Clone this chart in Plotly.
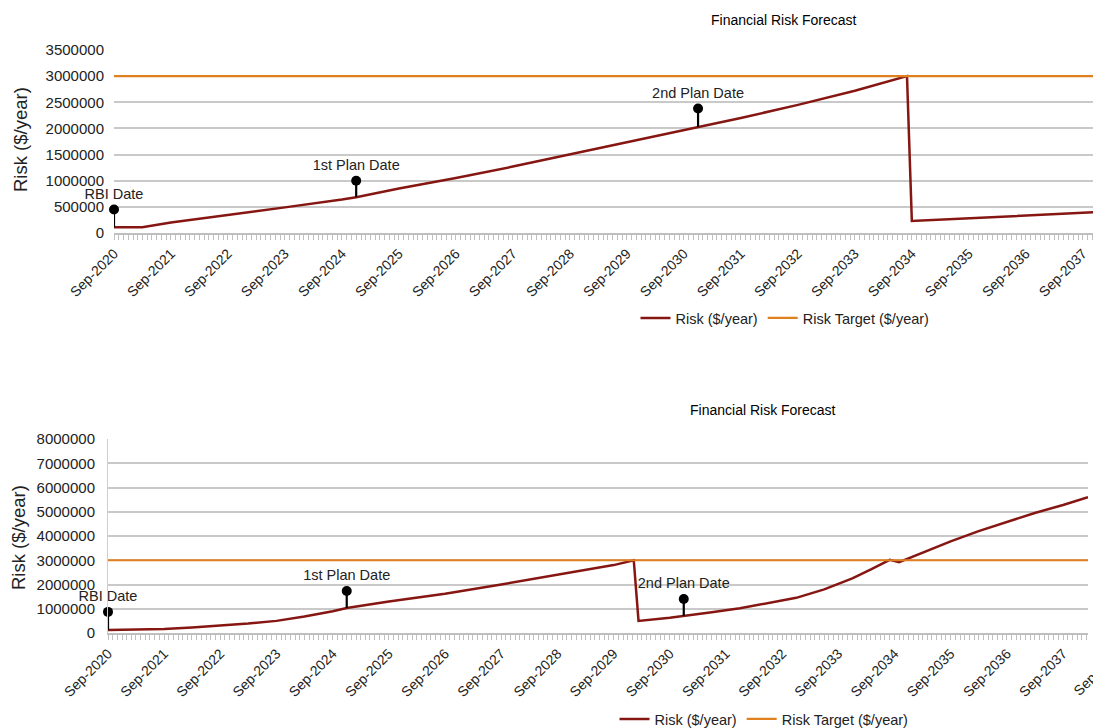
import plotly.graph_objects as go

W, H = 1093, 728
FONT = "Liberation Sans, Arial, sans-serif"
RED = "#861612"
ORANGE = "#E0801E"
GRID = "#c9c9c9"
TXT = "#222222"

# ---------------- data: top chart ----------------
top_dates = ['2020-09-01', '2021-03-01', '2021-09-01', '2022-09-01', '2023-09-01',
             '2024-09-01', '2024-12-01', '2025-09-01', '2026-09-01', '2027-09-01',
             '2028-09-01', '2029-09-01', '2030-09-01', '2030-12-01', '2031-09-01',
             '2032-09-01', '2033-09-01', '2034-08-01', '2034-09-01', '2037-12-01']
top_risk = [110000, 110000, 200000, 340000, 490000,
            640000, 685000, 850000, 1050000, 1270000,
            1500000, 1730000, 1970000, 2030000, 2200000,
            2450000, 2720000, 3000000, 230000, 400000]
top_target_dates = ['2020-09-01', '2038-01-01']
top_target = [3000000, 3000000]
top_event_dates = ['2020-09-01', '2024-12-01', '2030-12-01']
top_event_line = [110000, 685000, 2030000]
top_event_dot = [450000, 1000000, 2380000]

# ---------------- data: bottom chart ----------------
bot_dates = ['2020-09-01', '2021-03-01', '2021-09-01', '2022-03-01', '2022-09-01',
             '2023-03-01', '2023-09-01', '2024-03-01', '2024-09-01', '2024-12-01',
             '2025-09-01', '2026-09-01', '2027-09-01', '2028-09-01', '2029-09-01',
             '2030-01-10', '2030-02-10', '2030-09-01', '2030-12-01', '2031-06-01',
             '2031-12-01', '2032-06-01', '2032-12-01', '2033-06-01', '2033-12-01',
             '2034-04-01', '2034-08-01', '2034-10-01', '2035-04-01', '2035-09-01',
             '2036-03-01', '2036-09-01', '2037-03-01', '2037-09-01', '2038-02-10']
bot_risk = [120000, 130000, 170000, 230000, 300000,
            390000, 500000, 680000, 900000, 1030000,
            1300000, 1620000, 2000000, 2400000, 2800000,
            3000000, 500000, 630000, 700000, 860000,
            1020000, 1220000, 1450000, 1800000, 2250000,
            2620000, 3020000, 2920000, 3400000, 3780000,
            4200000, 4580000, 4950000, 5280000, 5600000]
bot_target_dates = ['2020-09-01', '2038-02-10']
bot_target = [3000000, 3000000]
bot_event_dates = ['2020-09-01', '2024-12-01', '2030-12-01']
bot_event_line = [120000, 1030000, 700000]
bot_event_dot = [870000, 1730000, 1400000]

event_labels = ['RBI Date', '1st Plan Date', '2nd Plan Date']
series_names = ['Risk ($/year)', 'Risk Target ($/year)']
chart_title = 'Financial Risk Forecast'
y_title = 'Risk ($/year)'
cut_label = 'Sep-2038'

fig = go.Figure()


def add_chart(xa, ya, leg, dates, risk, tdates, target, edates, eline, edot):
    fig.add_trace(go.Scatter(x=dates, y=risk, mode='lines', name=series_names[0],
                             line=dict(color=RED, width=2.5), xaxis=xa, yaxis=ya,
                             legend=leg))
    fig.add_trace(go.Scatter(x=tdates, y=target, mode='lines', name=series_names[1],
                             line=dict(color=ORANGE, width=2.2), xaxis=xa, yaxis=ya,
                             legend=leg))
    sx, sy = [], []
    for d, a, b in zip(edates, eline, edot):
        sx += [d, d, None]
        sy += [a, b, None]
    fig.add_trace(go.Scatter(x=sx, y=sy, mode='lines', line=dict(color='black', width=2.2),
                             showlegend=False, xaxis=xa, yaxis=ya, cliponaxis=False,
                             hoverinfo='skip'))
    fig.add_trace(go.Scatter(x=edates, y=edot, mode='markers+text', text=event_labels,
                             textposition='top center',
                             textfont=dict(family=FONT, size=14.5, color=TXT),
                             marker=dict(color='black', size=10),
                             showlegend=False, xaxis=xa, yaxis=ya, cliponaxis=False))


add_chart('x', 'y', 'legend', top_dates, top_risk, top_target_dates, top_target,
          top_event_dates, top_event_line, top_event_dot)
add_chart('x2', 'y2', 'legend2', bot_dates, bot_risk, bot_target_dates, bot_target,
          bot_event_dates, bot_event_line, bot_event_dot)


def xaxis_cfg(domain, anchor, rng):
    return dict(domain=domain, anchor=anchor, type='date', range=rng, automargin=False,
                tick0='2020-09-01', dtick='M12', tickformat='%b-%Y', tickangle=-45,
                ticks='outside', ticklen=5, tickcolor='#bfbfbf', tickwidth=1,
                minor=dict(ticks='outside', ticklen=5, dtick='M1', tick0='2020-09-01',
                           tickcolor='#bfbfbf', tickwidth=1, showgrid=False),
                showgrid=False, showline=True, linecolor='#bfbfbf', linewidth=2,
                zeroline=False,
                tickfont=dict(family=FONT, size=14, color=TXT))


def yaxis_cfg(domain, anchor, rng, dtick, showline):
    return dict(domain=domain, anchor=anchor, range=rng, dtick=dtick, tick0=0,
                automargin=False,
                tickformat='d', showgrid=True, gridcolor=GRID, gridwidth=1.8,
                zeroline=False, showline=showline, linecolor='#cfcfcf', linewidth=1,
                ticks='', ticklabelstandoff=9,
                tickfont=dict(family=FONT, size=15, color=TXT))


def ann(text, x, y, size, angle=0, color=TXT):
    return dict(text=text, x=x, y=y, xref='paper', yref='paper', xanchor='center',
                yanchor='middle', textangle=angle, showarrow=False,
                font=dict(family=FONT, size=size, color=color))


fig.update_layout(
    template='none',
    width=W, height=H,
    margin=dict(l=0, r=0, t=0, b=0, autoexpand=False),
    paper_bgcolor='white', plot_bgcolor='white',
    hovermode=False,
    xaxis=xaxis_cfg([114 / W, 1.0], 'y', ['2020-09-01', '2037-11-05']),
    yaxis=yaxis_cfg([1 - 233 / H, 1 - 50 / H], 'x', [0, 3500000], 500000, False),
    xaxis2=xaxis_cfg([108 / W, 1088 / W], 'y2', ['2020-09-01', '2038-02-10']),
    yaxis2=yaxis_cfg([1 - 633 / H, 1 - 439 / H], 'x2', [0, 8000000], 1000000, True),
    legend=dict(orientation='h', x=785 / W, xanchor='center', y=1 - 318 / H,
                yanchor='middle', itemwidth=30, bgcolor='rgba(0,0,0,0)',
                font=dict(family=FONT, size=14.5, color=TXT)),
    legend2=dict(orientation='h', x=764 / W, xanchor='center', y=1 - 719 / H,
                 yanchor='middle', itemwidth=30, bgcolor='rgba(0,0,0,0)',
                 font=dict(family=FONT, size=14.5, color=TXT)),
    showlegend=True,
    annotations=[
        ann(chart_title, 784 / W, 1 - 20 / H, 14, color='black'),
        ann(chart_title, 763 / W, 1 - 410 / H, 14, color='black'),
        ann(y_title, 20 / W, 1 - 140 / H, 18.5, angle=-90),
        ann(y_title, 18 / W, 1 - 538 / H, 18.5, angle=-90),
        dict(text=cut_label, x=1128 / W, y=1 - 641 / H, xref='paper', yref='paper',
             xanchor='right', yanchor='top', textangle=-45, showarrow=False,
             font=dict(family=FONT, size=14, color=TXT)),
    ],
)

fig.write_html("out.html")
